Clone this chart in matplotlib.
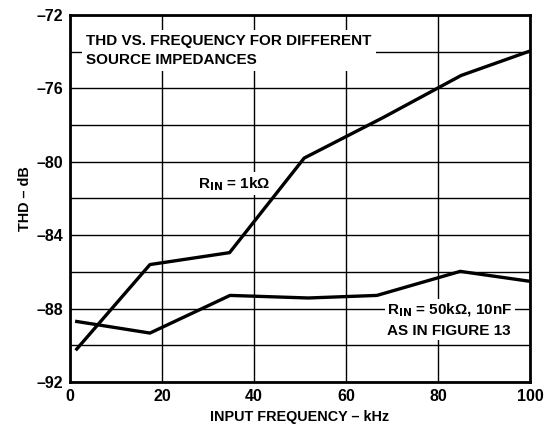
import numpy as np
import matplotlib.pyplot as plt

plt.rcParams['font.family'] = ['Liberation Sans', 'DejaVu Sans']
plt.rcParams['font.weight'] = 'bold'

# R_IN = 1k
f1 = [1.5, 17.4, 34.7, 50.9, 68.0, 85.0, 99.6]
thd1 = [-90.2, -85.6, -84.95, -79.8, -77.6, -75.3, -74.0]

# R_IN = 50k, 10nF
f2 = [1.5, 17.4, 34.8, 51.8, 66.7, 84.8, 99.6]
thd2 = [-88.7, -89.33, -87.28, -87.42, -87.28, -85.97, -86.5]

xticks = [0, 20, 40, 60, 80, 100]
yticks = [-72, -76, -80, -84, -88, -92]

fig = plt.figure(figsize=(5.5, 4.25), dpi=100)
ax = fig.add_axes([0.127, 0.101, 0.837, 0.864])

ax.plot(f1, thd1, color='black', lw=2.4, zorder=3)
ax.plot(f2, thd2, color='black', lw=2.4, zorder=3)

ax.set_xlim(0, 100)
ax.set_ylim(-92, -72)
ax.set_xticks(xticks)
ax.set_xticklabels([str(t) for t in xticks], fontsize=11.5, fontweight='bold')
ax.set_yticks(np.arange(-92, -71, 2), minor=True)
ax.set_yticks(yticks)
ax.set_yticklabels(['\u2013' + str(-t) for t in yticks], fontsize=11.5, fontweight='bold')
ax.tick_params(which='both', length=0, pad=5)
ax.grid(True, which='both', color='black', lw=1)
for s in ax.spines.values():
    s.set_linewidth(2)

ax.set_xlabel('INPUT FREQUENCY \u2013 kHz', fontsize=10.4, fontweight='bold', labelpad=4)
ax.set_ylabel('THD \u2013 dB', fontsize=10.4, fontweight='bold', labelpad=3)

box = dict(facecolor='white', edgecolor='none', pad=2)
ax.text(3.6, -73.95, 'THD VS. FREQUENCY FOR DIFFERENT\nSOURCE IMPEDANCES',
        fontsize=11, fontweight='bold', va='center', ha='left',
        linespacing=1.45, bbox=dict(facecolor='white', edgecolor='none', pad=3), zorder=4)
ax.text(27.8, -81.2, 'R$_{\\mathbf{IN}}$ = 1k\u03a9', fontsize=11, fontweight='bold',
        va='center', ha='left', bbox=box, zorder=4)
ax.text(69.0, -88.1, 'R$_{\\mathbf{IN}}$ = 50k\u03a9, 10nF', fontsize=11, fontweight='bold',
        va='center', ha='left', bbox=box, zorder=4)
ax.text(69.0, -89.2, 'AS IN FIGURE 13', fontsize=11, fontweight='bold',
        va='center', ha='left', bbox=box, zorder=4)

fig.savefig('out.png', dpi=100)
